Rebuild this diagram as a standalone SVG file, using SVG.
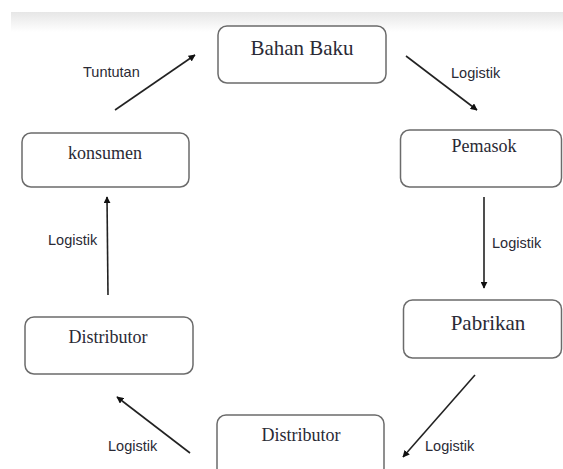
<svg xmlns="http://www.w3.org/2000/svg" width="563" height="469" viewBox="0 0 563 469">
<style>
.box{fill:#fff;stroke:#6b6b6b;stroke-width:1.5}
.nt{font-family:"Liberation Serif","Times New Roman",serif;fill:#2a2a35;text-anchor:middle}
.lb{font-family:"Liberation Sans",Arial,sans-serif;font-size:14.5px;fill:#2a2a35}
.ar{stroke:#222;stroke-width:1.6;fill:none;marker-end:url(#ah)}
</style>
<defs>
<linearGradient id="band" x1="0" y1="0" x2="0" y2="1">
<stop offset="0" stop-color="#e6e6e6"/>
<stop offset="1" stop-color="#ffffff"/>
</linearGradient>
<marker id="ah" viewBox="0 0 10 10" refX="9" refY="5" markerWidth="7" markerHeight="7" markerUnits="userSpaceOnUse" orient="auto">
<path d="M0,0 L10,5 L0,10 z" fill="#111"/>
</marker>
</defs>
<rect width="563" height="469" fill="#fff"/>
<rect x="11" y="12" width="552" height="20" fill="url(#band)"/>
<g id="connectors">
<line class="ar" x1="115" y1="110" x2="195" y2="55"/>
<line class="ar" x1="406" y1="56" x2="477" y2="110"/>
<line class="ar" x1="484" y1="197" x2="484" y2="288"/>
<line class="ar" x1="475" y1="375" x2="403" y2="457"/>
<line class="ar" x1="190" y1="453" x2="117" y2="397"/>
<line class="ar" x1="108" y1="295" x2="107" y2="197"/>
<text class="lb" x="83" y="77">Tuntutan</text>
<text class="lb" x="451" y="78">Logistik</text>
<text class="lb" x="492" y="248">Logistik</text>
<text class="lb" x="425" y="451">Logistik</text>
<text class="lb" x="108" y="451">Logistik</text>
<text class="lb" x="48" y="245">Logistik</text>
</g>
<g id="bahan-baku">
<rect class="box" x="218" y="26" width="168" height="57" rx="9"/>
<text class="nt" x="302" y="55" font-size="21">Bahan Baku</text>
</g>
<g id="pemasok">
<rect class="box" x="400.5" y="130" width="161" height="57" rx="9"/>
<text class="nt" x="484" y="152" font-size="18">Pemasok</text>
</g>
<g id="pabrikan">
<rect class="box" x="403.5" y="300" width="158" height="58" rx="9"/>
<text class="nt" x="488" y="330" font-size="21">Pabrikan</text>
</g>
<g id="distributor-bawah">
<rect class="box" x="217" y="415" width="167" height="62" rx="9"/>
<text class="nt" x="301" y="441" font-size="18">Distributor</text>
</g>
<g id="distributor-kiri">
<rect class="box" x="25" y="317" width="168" height="57" rx="9"/>
<text class="nt" x="108" y="343" font-size="18">Distributor</text>
</g>
<g id="konsumen">
<rect class="box" x="22" y="133" width="167" height="54" rx="9"/>
<text class="nt" x="105" y="159" font-size="18">konsumen</text>
</g>
</svg>
